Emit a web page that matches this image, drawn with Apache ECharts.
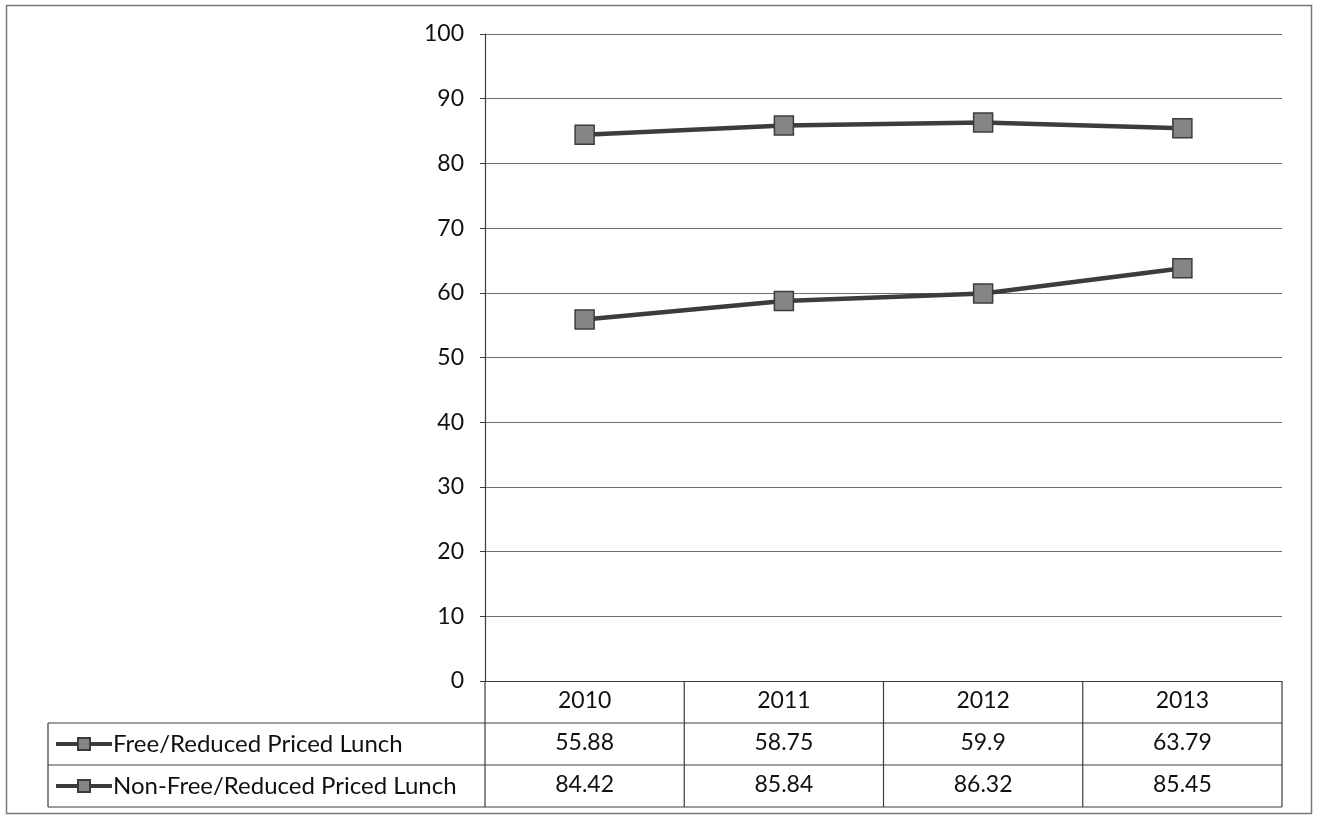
<!DOCTYPE html>
<html>
<head>
<meta charset="utf-8">
<script src="https://cdn.jsdelivr.net/npm/echarts@6/dist/echarts.min.js"></script>
<style>
html,body{margin:0;padding:0;background:#fff;}
#c{width:1319px;height:817px;}
</style>
</head>
<body>
<div id="c"></div>
<script>
const categories = ['2010', '2011', '2012', '2013'];
const seriesNames = ['Free/Reduced Priced Lunch', 'Non-Free/Reduced Priced Lunch'];
const freeReduced = [55.88, 58.75, 59.9, 63.79];
const nonFreeReduced = [84.42, 85.84, 86.32, 85.45];
const yTicks = [0, 100, 10];

const FONT = 'Lato';
const FS = 23;
const LFS = 24;
const TXT = '#111';
const LINE = '#3c3c3c';
const MARK = '#858585';

const G = {left: 485, top: 34, width: 797, height: 647};
const ROW = 42;
const TABLE_LEFT = 48;

const chart = echarts.init(document.getElementById('c'), null, {renderer: 'canvas'});

function valueAxis(vals, offset) {
  return {
    type: 'category', data: categories, position: 'bottom', offset: offset,
    boundaryGap: true,
    axisLine: {show: false}, axisTick: {show: false}, splitLine: {show: false},
    axisLabel: {margin: 8, fontFamily: FONT, fontSize: FS, color: TXT,
      formatter: (v, i) => String(vals[i])}
  };
}

const gx0 = G.left, gx1 = G.left + G.width, gy0 = G.top + G.height;
const colW = G.width / categories.length;
const graphics = [];
graphics.push({type: 'rect', shape: {x: 6.5, y: 5.5, width: 1305, height: 808}, style: {fill: null, stroke: '#777', lineWidth: 1.5}, silent: true});
const hl = (x1, y, x2) => graphics.push({type: 'line', shape: {x1: x1, y1: y, x2: x2, y2: y}, style: {stroke: LINE, lineWidth: 1.2}, silent: true});
const vl = (x, y1, y2) => graphics.push({type: 'line', shape: {x1: x, y1: y1, x2: x, y2: y2}, style: {stroke: LINE, lineWidth: 1.2}, silent: true});
hl(TABLE_LEFT, gy0 + ROW, gx1);
hl(TABLE_LEFT, gy0 + 2 * ROW, gx1);
hl(TABLE_LEFT, gy0 + 3 * ROW, gx1);
vl(TABLE_LEFT, gy0 + ROW, gy0 + 3 * ROW);
for (let i = 0; i <= categories.length; i++) vl(gx0 + i * colW, gy0, gy0 + 3 * ROW);

const serStyle = {
  type: 'line', symbol: 'rect', symbolSize: 19,
  lineStyle: {color: LINE, width: 4.5},
  itemStyle: {color: MARK, borderColor: LINE, borderWidth: 1.5}
};

function legendRow(name, rowIdx) {
  const cy = gy0 + ROW * rowIdx + ROW / 2;
  return {
    orient: 'horizontal', left: 54, top: cy - 13, padding: 0, height: 26,
    itemWidth: 56, itemHeight: 15,
    lineStyle: {width: 4, color: LINE},
    textStyle: {fontFamily: FONT, fontSize: LFS, color: TXT, padding: [0, 0, 0, -4], lineHeight: 26},
    data: [name]
  };
}

chart.setOption({
  animation: false,
  backgroundColor: '#fff',
  textStyle: {fontFamily: FONT},
  grid: G,
  legend: [legendRow(seriesNames[0], 1), legendRow(seriesNames[1], 2)],
  xAxis: [
    {type: 'category', data: categories, boundaryGap: true,
     axisLine: {show: true, lineStyle: {color: LINE, width: 1.2}},
     axisTick: {show: false},
     axisLabel: {margin: 8, fontFamily: FONT, fontSize: FS, color: TXT}},
    valueAxis(freeReduced, ROW),
    valueAxis(nonFreeReduced, 2 * ROW)
  ],
  yAxis: {
    type: 'value', min: yTicks[0], max: yTicks[1], interval: yTicks[2],
    axisLine: {show: true, lineStyle: {color: LINE, width: 1.2}},
    axisTick: {show: true, length: 5, lineStyle: {color: LINE}},
    axisLabel: {margin: 21, fontFamily: FONT, fontSize: FS, color: TXT},
    splitLine: {show: true, lineStyle: {color: '#6e6e6e', width: 1.2}}
  },
  series: [
    Object.assign({name: seriesNames[0], data: freeReduced}, serStyle),
    Object.assign({name: seriesNames[1], data: nonFreeReduced}, serStyle)
  ],
  graphic: graphics
});
</script>
</body>
</html>
